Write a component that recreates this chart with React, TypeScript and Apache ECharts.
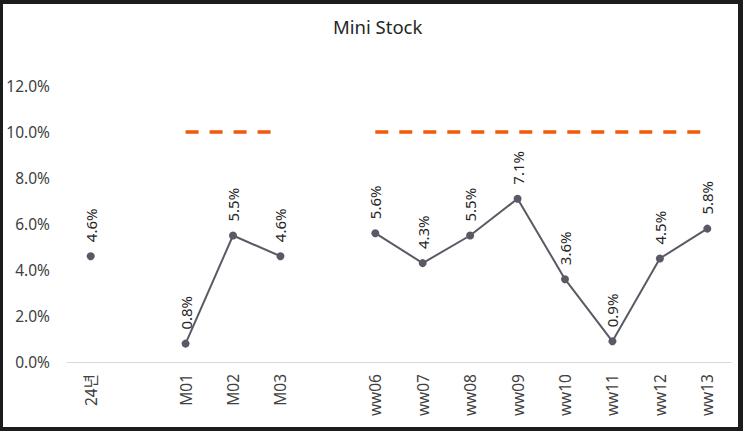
import React, { useEffect, useRef } from "react";
import * as echarts from "echarts";

const categories = ["24년", "", "M01", "M02", "M03", "", "ww06", "ww07", "ww08", "ww09", "ww10", "ww11", "ww12", "ww13"];
const stockValues: (number | null)[] = [4.6, null, 0.8, 5.5, 4.6, null, 5.6, 4.3, 5.5, 7.1, 3.6, 0.9, 4.5, 5.8];
const targetValues: (number | null)[] = [null, null, 10, 10, 10, null, 10, 10, 10, 10, 10, 10, 10, 10];
const yTicks = { min: 0, max: 12, interval: 2 };

const FONT = "'Noto Sans', 'Noto Sans CJK KR', sans-serif";

export default function App() {
  const ref = useRef<HTMLDivElement>(null);
  useEffect(() => {
    document.body.style.margin = "0";
    const chart = echarts.init(ref.current!, null, { renderer: "svg" });
    chart.setOption({
      animation: false,
      backgroundColor: "#ffffff",
      title: {
        text: "Mini Stock",
        left: 325,
        top: 8,
        textStyle: { fontFamily: FONT, fontSize: 18.5, fontWeight: "normal", color: "#262626" },
      },
      grid: { left: 64, right: 7, top: 82, bottom: 65 },
      xAxis: {
        type: "category",
        data: categories,
        axisLine: { lineStyle: { color: "#d9d9d9", width: 1 } },
        axisTick: { show: false },
        axisLabel: {
          rotate: 90,
          interval: 0,
          margin: 12,
          fontFamily: FONT,
          fontSize: 15.5,
          color: "#404040",
        },
      },
      yAxis: {
        type: "value",
        min: yTicks.min,
        max: yTicks.max,
        interval: yTicks.interval,
        axisLine: { show: false },
        axisTick: { show: false },
        splitLine: { show: false },
        axisLabel: {
          margin: 17,
          fontFamily: FONT,
          fontSize: 15.5,
          color: "#404040",
          formatter: (v: number) => v.toFixed(1) + "%",
        },
      },
      series: [
        {
          name: "Target",
          type: "line",
          data: targetValues,
          symbol: "none",
          connectNulls: false,
          lineStyle: { color: "#F05A0A", width: 3.5, type: [13, 11] },
          z: 1,
        },
        {
          name: "Mini Stock",
          type: "line",
          data: stockValues,
          symbol: "circle",
          symbolSize: 8,
          connectNulls: false,
          itemStyle: { color: "#5a5a66" },
          lineStyle: { color: "#5a5a66", width: 2 },
          label: {
            show: true,
            position: "top",
            rotate: 90,
            align: "left",
            verticalAlign: "middle",
            distance: 10,
            fontFamily: FONT,
            fontSize: 15,
            color: "#262626",
            formatter: (p: any) => p.value.toFixed(1) + "%",
          },
          z: 2,
        },
      ],
    });
    return () => chart.dispose();
  }, []);
  return (
    <div style={{ position: "absolute", left: 0, top: 0, width: 743, height: 431, background: "#1c1c1c" }}>
      <div ref={ref} style={{ position: "absolute", left: 3, top: 4, width: 735, height: 423 }} />
    </div>
  );
}
